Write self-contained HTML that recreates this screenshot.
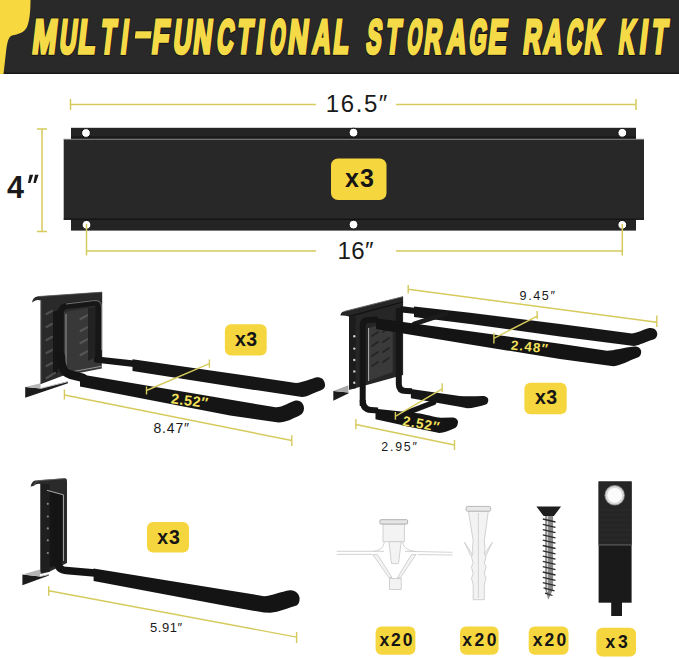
<!DOCTYPE html>
<html><head><meta charset="utf-8">
<style>
html,body{margin:0;padding:0;background:#fff;}
body{width:679px;height:658px;overflow:hidden;position:relative;font-family:"Liberation Sans",sans-serif;}
svg{position:absolute;left:0;top:0;display:block;}
text{font-family:"Liberation Sans",sans-serif;}
</style></head>
<body>
<svg width="679" height="658" viewBox="0 0 679 658">
<rect x="0" y="0" width="679" height="74" fill="#29292a"/>
<rect x="0" y="72.5" width="679" height="1.5" fill="#18181a"/>
<path d="M0,0 L30.5,0 C30.5,12 29.5,21 27,27 C24,33 18,34 12,35.5 C8,37 7,44 6,52 L3.5,74 L0,74 Z" fill="#f8d83f"/>
<g fill="#121212" font-weight="bold" stroke="#121212" stroke-width="4.6" stroke-linejoin="miter" opacity="0.85">
<text vector-effect="non-scaling-stroke" transform="translate(31.17,53.2) skewX(-6.6) scale(0.609,1)" font-size="47.4">M</text>
<text vector-effect="non-scaling-stroke" transform="translate(58.50,53.2) skewX(-6.6) scale(0.491,1)" font-size="47.4">U</text>
<text vector-effect="non-scaling-stroke" transform="translate(77.11,53.2) skewX(-6.6) scale(0.596,1)" font-size="47.4">L</text>
<text vector-effect="non-scaling-stroke" transform="translate(99.40,53.2) skewX(-6.6) scale(0.509,1)" font-size="47.4">T</text>
<text vector-effect="non-scaling-stroke" transform="translate(119.92,53.2) skewX(-6.6) scale(0.498,1)" font-size="47.4">I</text>
<text vector-effect="non-scaling-stroke" transform="translate(150.85,53.2) skewX(-6.6) scale(0.582,1)" font-size="47.4">F</text>
<text vector-effect="non-scaling-stroke" transform="translate(172.30,53.2) skewX(-6.6) scale(0.526,1)" font-size="47.4">U</text>
<text vector-effect="non-scaling-stroke" transform="translate(192.22,53.2) skewX(-6.6) scale(0.531,1)" font-size="47.4">N</text>
<text vector-effect="non-scaling-stroke" transform="translate(215.86,53.2) skewX(-6.6) scale(0.484,1)" font-size="47.4">C</text>
<text vector-effect="non-scaling-stroke" transform="translate(236.09,53.2) skewX(-6.6) scale(0.519,1)" font-size="47.4">T</text>
<text vector-effect="non-scaling-stroke" transform="translate(255.28,53.2) skewX(-6.6) scale(0.542,1)" font-size="47.4">I</text>
<text vector-effect="non-scaling-stroke" transform="translate(268.80,53.2) skewX(-6.6) scale(0.410,1)" font-size="47.4">O</text>
<text vector-effect="non-scaling-stroke" transform="translate(286.88,53.2) skewX(-6.6) scale(0.574,1)" font-size="47.4">N</text>
<text vector-effect="non-scaling-stroke" transform="translate(311.79,53.2) skewX(-6.6) scale(0.519,1)" font-size="47.4">A</text>
<text vector-effect="non-scaling-stroke" transform="translate(332.21,53.2) skewX(-6.6) scale(0.534,1)" font-size="47.4">L</text>
<text vector-effect="non-scaling-stroke" transform="translate(365.15,53.2) skewX(-6.6) scale(0.475,1)" font-size="47.4">S</text>
<text vector-effect="non-scaling-stroke" transform="translate(384.80,53.2) skewX(-6.6) scale(0.502,1)" font-size="47.4">T</text>
<text vector-effect="non-scaling-stroke" transform="translate(406.03,53.2) skewX(-6.6) scale(0.395,1)" font-size="47.4">O</text>
<text vector-effect="non-scaling-stroke" transform="translate(423.22,53.2) skewX(-6.6) scale(0.499,1)" font-size="47.4">R</text>
<text vector-effect="non-scaling-stroke" transform="translate(446.05,53.2) skewX(-6.6) scale(0.553,1)" font-size="47.4">A</text>
<text vector-effect="non-scaling-stroke" transform="translate(467.89,53.2) skewX(-6.6) scale(0.469,1)" font-size="47.4">G</text>
<text vector-effect="non-scaling-stroke" transform="translate(487.04,53.2) skewX(-6.6) scale(0.587,1)" font-size="47.4">E</text>
<text vector-effect="non-scaling-stroke" transform="translate(522.27,53.2) skewX(-6.6) scale(0.515,1)" font-size="47.4">R</text>
<text vector-effect="non-scaling-stroke" transform="translate(542.87,53.2) skewX(-6.6) scale(0.535,1)" font-size="47.4">A</text>
<text vector-effect="non-scaling-stroke" transform="translate(565.22,53.2) skewX(-6.6) scale(0.452,1)" font-size="47.4">C</text>
<text vector-effect="non-scaling-stroke" transform="translate(583.58,53.2) skewX(-6.6) scale(0.509,1)" font-size="47.4">K</text>
<text vector-effect="non-scaling-stroke" transform="translate(617.85,53.2) skewX(-6.6) scale(0.457,1)" font-size="47.4">K</text>
<text vector-effect="non-scaling-stroke" transform="translate(638.68,53.2) skewX(-6.6) scale(0.542,1)" font-size="47.4">I</text>
<text vector-effect="non-scaling-stroke" transform="translate(650.39,53.2) skewX(-6.6) scale(0.523,1)" font-size="47.4">T</text>
<polygon points="136.4,36.9 149.5,36.9 150.0,32.8 136.9,32.8"/>
</g>
<g fill="#f5da48" font-weight="bold" stroke="#f5da48" stroke-width="3.0" stroke-linejoin="miter">
<text vector-effect="non-scaling-stroke" transform="translate(31.17,53.2) skewX(-6.6) scale(0.609,1)" font-size="47.4">M</text>
<text vector-effect="non-scaling-stroke" transform="translate(58.50,53.2) skewX(-6.6) scale(0.491,1)" font-size="47.4">U</text>
<text vector-effect="non-scaling-stroke" transform="translate(77.11,53.2) skewX(-6.6) scale(0.596,1)" font-size="47.4">L</text>
<text vector-effect="non-scaling-stroke" transform="translate(99.40,53.2) skewX(-6.6) scale(0.509,1)" font-size="47.4">T</text>
<text vector-effect="non-scaling-stroke" transform="translate(119.92,53.2) skewX(-6.6) scale(0.498,1)" font-size="47.4">I</text>
<text vector-effect="non-scaling-stroke" transform="translate(150.85,53.2) skewX(-6.6) scale(0.582,1)" font-size="47.4">F</text>
<text vector-effect="non-scaling-stroke" transform="translate(172.30,53.2) skewX(-6.6) scale(0.526,1)" font-size="47.4">U</text>
<text vector-effect="non-scaling-stroke" transform="translate(192.22,53.2) skewX(-6.6) scale(0.531,1)" font-size="47.4">N</text>
<text vector-effect="non-scaling-stroke" transform="translate(215.86,53.2) skewX(-6.6) scale(0.484,1)" font-size="47.4">C</text>
<text vector-effect="non-scaling-stroke" transform="translate(236.09,53.2) skewX(-6.6) scale(0.519,1)" font-size="47.4">T</text>
<text vector-effect="non-scaling-stroke" transform="translate(255.28,53.2) skewX(-6.6) scale(0.542,1)" font-size="47.4">I</text>
<text vector-effect="non-scaling-stroke" transform="translate(268.80,53.2) skewX(-6.6) scale(0.410,1)" font-size="47.4">O</text>
<text vector-effect="non-scaling-stroke" transform="translate(286.88,53.2) skewX(-6.6) scale(0.574,1)" font-size="47.4">N</text>
<text vector-effect="non-scaling-stroke" transform="translate(311.79,53.2) skewX(-6.6) scale(0.519,1)" font-size="47.4">A</text>
<text vector-effect="non-scaling-stroke" transform="translate(332.21,53.2) skewX(-6.6) scale(0.534,1)" font-size="47.4">L</text>
<text vector-effect="non-scaling-stroke" transform="translate(365.15,53.2) skewX(-6.6) scale(0.475,1)" font-size="47.4">S</text>
<text vector-effect="non-scaling-stroke" transform="translate(384.80,53.2) skewX(-6.6) scale(0.502,1)" font-size="47.4">T</text>
<text vector-effect="non-scaling-stroke" transform="translate(406.03,53.2) skewX(-6.6) scale(0.395,1)" font-size="47.4">O</text>
<text vector-effect="non-scaling-stroke" transform="translate(423.22,53.2) skewX(-6.6) scale(0.499,1)" font-size="47.4">R</text>
<text vector-effect="non-scaling-stroke" transform="translate(446.05,53.2) skewX(-6.6) scale(0.553,1)" font-size="47.4">A</text>
<text vector-effect="non-scaling-stroke" transform="translate(467.89,53.2) skewX(-6.6) scale(0.469,1)" font-size="47.4">G</text>
<text vector-effect="non-scaling-stroke" transform="translate(487.04,53.2) skewX(-6.6) scale(0.587,1)" font-size="47.4">E</text>
<text vector-effect="non-scaling-stroke" transform="translate(522.27,53.2) skewX(-6.6) scale(0.515,1)" font-size="47.4">R</text>
<text vector-effect="non-scaling-stroke" transform="translate(542.87,53.2) skewX(-6.6) scale(0.535,1)" font-size="47.4">A</text>
<text vector-effect="non-scaling-stroke" transform="translate(565.22,53.2) skewX(-6.6) scale(0.452,1)" font-size="47.4">C</text>
<text vector-effect="non-scaling-stroke" transform="translate(583.58,53.2) skewX(-6.6) scale(0.509,1)" font-size="47.4">K</text>
<text vector-effect="non-scaling-stroke" transform="translate(617.85,53.2) skewX(-6.6) scale(0.457,1)" font-size="47.4">K</text>
<text vector-effect="non-scaling-stroke" transform="translate(638.68,53.2) skewX(-6.6) scale(0.542,1)" font-size="47.4">I</text>
<text vector-effect="non-scaling-stroke" transform="translate(650.39,53.2) skewX(-6.6) scale(0.523,1)" font-size="47.4">T</text>
<polygon points="136.4,36.9 149.5,36.9 150.0,32.8 136.9,32.8"/>
</g>
<g stroke="#d6ca5c" stroke-width="1.5" fill="none">
  <path d="M70.5,104.5H316 M396,104.5H636 M70.5,99V110 M636,99V110"/>
  <path d="M42,129V231.5 M37,129H47 M37,231.5H47"/>
  <path d="M86.5,226V255.5 M622.3,226V255.5 M86.5,251H316 M396,251H622.3"/>
</g>
<text x="325.8" y="112.4" font-size="24" fill="#1a1a1a" textLength="61.5" lengthAdjust="spacing">16.5″</text>
<text x="337.4" y="259.3" font-size="24" fill="#1a1a1a" textLength="36.2" lengthAdjust="spacing">16″</text>
<text x="7.0" y="197.8" font-size="30.5" font-weight="bold" fill="#1a1a1a">4</text>
<path d="M29.6,174.8 L33.2,174.8 L30.4,183 L28,183 Z M35,174.8 L38.6,174.8 L35.8,183 L33.4,183 Z" fill="#1a1a1a"/>
<rect x="71" y="127.8" width="565" height="102.8" fill="#242424"/>
<rect x="71" y="136.6" width="565" height="1.2" fill="#141414"/>
<rect x="63.7" y="139.3" width="580.3" height="80.3" fill="#282828"/>
<rect x="63.7" y="138.8" width="580.3" height="1.1" fill="#7a7a7a"/>
<rect x="63.7" y="218.6" width="580.3" height="1.2" fill="#111"/>
<g fill="#fff" stroke="#111" stroke-width="1">
  <circle cx="86" cy="133" r="4.4"/>
  <circle cx="353.5" cy="132.6" r="4.4"/>
  <circle cx="622.3" cy="132.8" r="4.4"/>
  <circle cx="86.5" cy="224.8" r="4.4"/>
  <circle cx="353.5" cy="224.6" r="4.4"/>
  <circle cx="622.3" cy="224.8" r="4.4"/>
</g>
<path d="M86.5,224V231" stroke="#d6ca5c" stroke-width="1.5"/>
<path d="M622.3,224V231" stroke="#d6ca5c" stroke-width="1.5"/>
<rect x="331" y="158.5" width="55.5" height="41.5" rx="7" fill="#f6d63e"/>
<text x="345" y="187" font-size="25" font-weight="bold" fill="#151515" textLength="29" lengthAdjust="spacing">x3</text>

<!-- HOOK 1 -->
<g>
  <!-- bottom flange -->
  <polygon points="25.2,387 40.6,388.4 67.5,381.5 68,383.3 25.2,397.8" fill="#1c1c1c"/>
  <polygon points="25.2,386.9 40.6,383.2 40.6,388.4" fill="#b8b8b8"/>
  <path d="M40.6,388.5 L67.3,381.8" stroke="#bdbdbd" stroke-width="1" fill="none"/>
  <!-- back plate -->
  <path d="M32,302.5 Q33,297 37.5,296.5 L102.2,292 L102.2,361 L41,384 L41,300.5 Q37,299.5 34.5,301 Z" fill="#2a2a2a"/>
  <path d="M37.5,296.6 L102,292.2" stroke="#555" stroke-width="0.8"/>
  <path d="M41,300.5 L41,384" stroke="#444" stroke-width="1.2"/>
  <path d="M53,312 L58,310 L58,372 L53,376 Z" fill="#161616"/>
  <g stroke="#4e4e4e" stroke-width="2.2" stroke-linecap="round">
    <path d="M46.5,314 L52,311 M46.5,327 L52,324 M46.5,340 L52,337 M46.5,353 L52,350 M46.5,366 L52,363 M46.5,378 L55,373"/>
  </g>
  <!-- inner plate inside frame -->
  <path d="M63.5,312 L96,306.5 L96,356 L101.8,361 L101.8,368.5 L71,374.5 L63.5,368 Z" fill="#383838"/>
  <path d="M66,314 L66,366 L71,372 L101.5,366.3" stroke="#a0a0a0" stroke-width="0.9" fill="none"/>
  <path d="M88,308 L96,307 L96,357 L88,361 Z" fill="#222"/>
  <g stroke="#555" stroke-width="2.2" stroke-linecap="round">
    <path d="M80.5,319 L87,315.5 M80.5,331 L87,327.5 M80.5,343 L87,339.5 M80.5,355 L87,351.5"/>
  </g>
  <!-- frame loop -->
  <path d="M98.2,357 L98.6,308 Q98.6,302.2 93.5,302.7 L66.5,306 Q60.8,307 60.8,313 L60.8,360" stroke="#161616" stroke-width="6" fill="none" stroke-linejoin="round"/>
  <path d="M66,304 L93.5,300.6 Q101.5,299.8 101.6,307 L101.6,350" stroke="#8a8a8a" stroke-width="0.8" fill="none"/>
  <!-- upper arm rod -->
  <path d="M97,359.6 L134,363.8" stroke="#151515" stroke-width="6.4" stroke-linecap="round"/>
  <!-- upper arm foam -->
  <path d="M132.5,359.3 L230,373.3 L296,383 C303,382.5 311,378.5 317,377.2 C322,376.5 325.6,381 325,386 C324.5,388.5 322.5,389.8 320.5,390.5 C313,393 308,396.5 302,397 L230,386.3 L132.5,371 Z" fill="#161616"/>
  <!-- lower arm -->
  <path d="M60.8,356 Q60.8,371.5 70,374.5 L83,377.8" stroke="#141414" stroke-width="8.6" fill="none" stroke-linecap="round"/>
  <path d="M80,374.3 L274,407.1 C281,408.5 289,402.5 295.5,400.6 C300,399.5 304,403.5 304,408.2 C304,411.5 302.5,414 299.5,415.5 C293,418.5 286,422.5 278.6,422.5 L230,415.5 L80,386.5 Z" fill="#151515"/>
</g>
<!-- hook1 dims -->
<g stroke="#d6ca5c" stroke-width="1.4" fill="none">
  <path d="M64.4,389.6V399.4 M64.4,395 L291.8,440.5 M291.8,435.3V446"/>
  <path d="M146.5,386.4V394.6 M146.5,390.5 L209.4,363.7 M209.4,359.6V367.8"/>
</g>
<text x="153.4" y="432.6" font-size="14" fill="#1a1a1a" textLength="35.6" lengthAdjust="spacing">8.47″</text>
<rect x="224.9" y="324.3" width="41.8" height="31.3" rx="6" fill="#f6d63e"/>
<text x="234.9" y="345.9" font-size="19.5" font-weight="bold" fill="#151515" textLength="22.3" lengthAdjust="spacing">x3</text>

<!-- HOOK 2 -->
<g>
  <!-- bottom flange -->
  <polygon points="333.3,390.9 348.4,392.6 348.7,393.3 333.3,400.7" fill="#1c1c1c"/>
  <polygon points="333.3,390.9 348.4,385.2 348.4,392.6" fill="#a8a8a8"/>
  <!-- plate -->
  <path d="M340.4,315.6 Q341,311.5 344.5,311.2 L403.1,296.4 L403.1,375 L356,388 L349,390 L349,316.5 Q344,315 340.4,315.6 Z" fill="#262626"/>
  <path d="M344.5,311.4 L403.1,296.6" stroke="#6a6a6a" stroke-width="0.9"/>
  <path d="M349,316.3 L403,302" stroke="#111" stroke-width="1.2"/>
  <rect x="349" y="316.5" width="6.6" height="72" fill="#1c1c1c"/>
  <g fill="#cfcfcf">
    <circle cx="354.3" cy="336.3" r="1.2"/><circle cx="354.3" cy="348.6" r="1.2"/><circle cx="354.3" cy="360" r="1.2"/><circle cx="354.3" cy="371.4" r="1.2"/><circle cx="354.3" cy="382.8" r="1.2"/>
  </g>
  <!-- inner plate -->
  <path d="M368,328 L392.7,322 L392.7,372 L368,381 Z" fill="#3a3a3a"/>
  <path d="M368.6,328 L368.6,381" stroke="#bdbdbd" stroke-width="0.9"/>
  <g stroke="#262626" stroke-width="2" stroke-linecap="round">
    <path d="M372,336 L378,332 M372,346 L378,342 M372,356 L378,352 M372,366 L378,362 M383,332 L389,328 M383,342 L389,338 M383,352 L389,348 M383,362 L389,358"/>
  </g>
  <!-- back-upper arm -->
  <path d="M402,309.3 L416,311" stroke="#161616" stroke-width="6.2" stroke-linecap="round"/>
  <path d="M414,306.4 L470,312.8 L560,323.9 L632,333.4 C638,333 644,329 649.5,328 C654,327.2 657.5,330.5 657.3,334.3 C657.1,337 655.8,338.8 653.5,339.4 C646,341.5 640,345 634,345.9 L560,336.5 L470,323.9 L414,317 Z" fill="#161616"/>
  <!-- cross bar between top arms -->
  <path d="M414,324 L446,313.5" stroke="#1b1b1b" stroke-width="4.5" stroke-linecap="round"/>
  <!-- right (back) vertical + upper-back small arm -->
  <path d="M398.8,308 L398.8,384 Q398.8,391 406,391 L412,391.2" stroke="#161616" stroke-width="6" fill="none" stroke-linejoin="round"/>
  <path d="M410.9,388.9 L459.6,395.9 C467,396.5 475,396 482.7,395.9 C486,395.9 488.5,397.5 488.3,400.2 C488.1,402.5 487.3,404 485.8,404.6 C479,406.5 473,408.3 467.3,408.3 L459.6,406.8 L410.9,398.2 Z" fill="#161616"/>
  <!-- left (front) vertical + front-upper arm -->
  <path d="M362.7,406 L362.7,326 Q362.7,320 368.5,320 L378,319.5" stroke="#151515" stroke-width="6" fill="none" stroke-linejoin="round"/>
  <path d="M376,318.2 L470,331.3 L560,343.8 L607,350.8 C614,350.5 624,347.5 634,346.5 C638,346 641.5,348.5 641.2,352.3 C641,355.5 639.5,357 637,357.8 C628,361 621,365.5 613.5,366.2 L560,359 L470,344.5 L376,328.9 Z" fill="#141414"/>
  <!-- lower cross bar -->
  <path d="M400,415.5 L433.5,402.5" stroke="#151515" stroke-width="5.5" stroke-linecap="round"/>
  <!-- lower-front small arm -->
  <path d="M362.7,400 Q362.7,409.5 371,410 L378,410.5" stroke="#151515" stroke-width="6" fill="none" stroke-linejoin="round"/>
  <path d="M375.5,408.8 L420,413.6 C430,415.5 435,417.5 441,417.7 L452,417.4 C455.5,417.3 458.3,419.5 458,422.5 C457.7,425.3 456.5,427.5 454.5,428.3 C449,430.5 444,433 439.3,433.1 L420,429 L375.5,419.3 Z" fill="#141414"/>
</g>
<!-- hook2 dims -->
<g stroke="#d6ca5c" stroke-width="1.4" fill="none">
  <path d="M408.2,285V293.6 M408.2,289.3 L656.8,322.2 M656.8,315.5V327"/>
  <path d="M493.9,333V343.6 M493.9,338.3 L537.2,316.2 M537.2,310.9V318.9"/>
  <path d="M395.4,412V419.7 M395.4,416.4 L442.2,388.8 M442.2,383.3V392"/>
  <path d="M355.9,419V429.2 M355.9,424.5 L454.5,445 M454.5,440V450"/>
</g>
<text x="519.6" y="300" font-size="12.6" fill="#1a1a1a" textLength="35.3" lengthAdjust="spacing">9.45″</text>
<text x="381.3" y="450.8" font-size="12.4" fill="#1a1a1a" textLength="35.6" lengthAdjust="spacing">2.95″</text>
<rect x="524.4" y="382.8" width="42.3" height="31.4" rx="6" fill="#f6d63e"/>
<text x="534.9" y="404.2" font-size="19.5" font-weight="bold" fill="#151515" textLength="22.2" lengthAdjust="spacing">x3</text>

<!-- HOOK 3 -->
<g>
  <!-- bottom flange -->
  <polygon points="22.4,574.6 40,576.4 48.9,574.5 48.9,575.5 22.4,585.2" fill="#1c1c1c"/>
  <polygon points="22.4,574.5 40,569.4 40,576.4" fill="#b5b5b5"/>
  <path d="M40,576.5 L48.9,574.6" stroke="#c0c0c0" stroke-width="0.9"/>
  <!-- plate -->
  <path d="M30.5,486.4 Q32,481 35.5,480.6 L65.2,478.2 Q67,478.5 67,481 L67,563 L48.8,572 L40.5,574 L40.5,484 Q37,483 33.5,486 Z" fill="#2a2a2a"/>
  <path d="M33.5,485.5 Q35,481.5 38.7,480.6 L65,478.6" stroke="#6a6a6a" stroke-width="0.8" fill="none"/>
  <rect x="40.5" y="484" width="9" height="88" fill="#1f1f1f"/>
  <!-- inner bracket -->
  <path d="M49.5,490.5 L63.4,494.6 L63.4,561 L51,568 L49.5,566 Z" fill="#151515"/>
  <path d="M47,490.3 L63.4,494.8 L63.4,561" stroke="#bdbdbd" stroke-width="0.9" fill="none"/>
  <g fill="#8a8a8a">
    <circle cx="47.8" cy="503.8" r="1.1"/><circle cx="47.8" cy="516.5" r="1.1"/><circle cx="47.8" cy="528.4" r="1.1"/><circle cx="47.8" cy="540.3" r="1.1"/><circle cx="47.8" cy="553" r="1.1"/>
  </g>
  <!-- vertical rod + bend -->
  <path d="M57.8,496 L57.8,562 Q58,570 66,570.5 L95,573" stroke="#141414" stroke-width="7.5" fill="none" stroke-linejoin="round"/>
  <!-- foam -->
  <path d="M93.6,568.6 L220,588.9 L264,596.2 C272,596 281,591.5 290,590.3 C295,589.8 299.6,594 299.6,598.5 C299.6,602 298.5,604.5 296.5,605.5 C288,608 279,612 270.4,612.8 L264,612.6 L220,604.8 L93.6,581.1 Z" fill="#141414"/>
</g>
<!-- hook3 dims -->
<g stroke="#d6ca5c" stroke-width="1.4" fill="none">
  <path d="M48.7,586.2V595.8 M48.7,590.7 L296.6,637.1 M296.6,632V643"/>
</g>
<text x="150" y="632.1" font-size="13" fill="#1a1a1a" textLength="32.1" lengthAdjust="spacing">5.91″</text>
<rect x="147" y="522" width="42" height="30.6" rx="6" fill="#f6d63e"/>
<text x="157.2" y="543.5" font-size="19.5" font-weight="bold" fill="#151515" textLength="22.6" lengthAdjust="spacing">x3</text>

<!-- ANCHOR 1 (wing) -->
<g stroke="#cdcdcd" stroke-width="0.9" fill="#f3f3f3">
  <path d="M336.7,551.3 L384,551.3 M336.7,554.4 L372,554.4 M405,551.3 L452.6,552.3 M418,554.6 L452.6,555" fill="none"/>
  <path d="M372.8,554.6 L388.8,577.5 L392,577.5 L377.5,554.6 Z"/>
  <path d="M416,554.6 L400.5,577.5 L397.5,577.5 L411.5,554.6 Z"/>
  <path d="M384.4,542 Q383,551 372.5,551.5 M402.5,542 Q404,551 416.5,551.5" fill="none"/>
  <rect x="383" y="524" width="21.4" height="17.7"/>
  <path d="M388.9,541.7 L401.2,541.7 L398.5,563.6 L391.5,563.6 Z"/>
  <rect x="389.5" y="578.5" width="11.7" height="11"/>
  <rect x="379.9" y="519.7" width="27.7" height="4.3" rx="1" fill="#e6e6e6" stroke="#a8a8a8"/>
</g>
<!-- ANCHOR 2 (ribbed) -->
<g stroke="#cdcdcd" stroke-width="0.9" fill="#f3f3f3">
  <path d="M468.4,511.2 L488.3,511.2 L484.3,540.7 L485,547 L484.5,553 L486,557 L484.3,563 L486,567 L484.3,574 L486,578 L484.3,585 L484.3,599.7 L473.2,599.7 L473.2,585 L471.5,578 L473.2,574 L471.5,567 L473.2,563 L471.5,557 L473,553 L472.5,547 L473.2,540.7 Z"/>
  <path d="M464.4,542.3 L470.8,555.8 L472.3,554 Z M492.3,542.3 L485.9,555.8 L484.4,554 Z"/>
  <path d="M478.4,513 L478.4,598" fill="none" stroke="#cfcfcf"/>
  <rect x="466" y="506.4" width="24.7" height="4.8" rx="1.5" fill="#e8e8e8" stroke="#b0b0b0"/>
</g>
<!-- SCREW -->
<g>
  <path d="M545.2,515 L553.1,515 L553.1,589.3 L548.3,599.7 L545.2,589.3 Z" fill="#8a8a8a"/>
  <path d="M547.5,515 L547.5,592" stroke="#d8d8d8" stroke-width="1.2"/>
  <g stroke="#2a2a2a" stroke-width="1.3">
    <path d="M542.8,519 L555.5,522 M542.8,524.3 L555.5,527.3 M542.8,529.6 L555.5,532.6 M542.8,534.9 L555.5,537.9 M542.8,540.2 L555.5,543.2 M542.8,545.5 L555.5,548.5 M542.8,550.8 L555.5,553.8 M542.8,556.1 L555.5,559.1 M542.8,561.4 L555.5,564.4 M542.8,566.7 L555.5,569.7 M542.8,572 L555.5,575 M542.8,577.3 L555.5,580.3 M542.8,582.6 L555.5,585.6 M543.5,587.9 L554.5,590.9 M545,593.2 L552.5,595.5"/>
  </g>
  <path d="M536.4,506.5 L561.1,506.5 L553.9,516 L543.6,516 Z" fill="#1e1e1e"/>
</g>
<!-- STRAP -->
<g>
  <rect x="611.2" y="600" width="10.8" height="16" fill="#1a1a1a"/>
  <rect x="598.6" y="481.5" width="33" height="121.2" fill="#1a1a1a"/>
  <rect x="598.6" y="481.5" width="33" height="63.3" fill="#252525"/>
  <g stroke="#2f2f2f" stroke-width="0.8"><path d="M600,510H630 M600,515H630 M600,520H630 M600,525H630 M600,530H630 M600,535H630 M600,540H630"/></g>
  <rect x="598.6" y="544.3" width="33" height="1.2" fill="#5a5a5a"/>
  <circle cx="614.7" cy="495.3" r="10.2" fill="#8f8f8f"/>
  <circle cx="614.7" cy="495.3" r="9.3" fill="#d8d8d8"/>
  <circle cx="614.7" cy="495.3" r="7.4" fill="#fbfbfb"/>
</g>
<!-- BOTTOM BADGES -->
<g fill="#f6d63e">
  <rect x="375.6" y="626.5" width="39.8" height="28.3" rx="6"/>
  <rect x="460" y="626.5" width="38.6" height="28.3" rx="6"/>
  <rect x="528.7" y="626.5" width="39.8" height="28.3" rx="6"/>
  <rect x="596.3" y="627.8" width="39.7" height="28.7" rx="6"/>
</g>
<g font-size="17.5" font-weight="bold" fill="#151515">
  <text x="379.4" y="645.9" textLength="33.1" lengthAdjust="spacing">x20</text>
  <text x="462.2" y="645.9" textLength="34.2" lengthAdjust="spacing">x20</text>
  <text x="532.7" y="645.9" textLength="33.5" lengthAdjust="spacing">x20</text>
  <text x="605.6" y="647.7" textLength="22.1" lengthAdjust="spacing">x3</text>
</g>
<g font-weight="bold" fill="#f4e15c" stroke="#111" stroke-width="0.6" paint-order="stroke">
<text x="170.6" y="403.3" font-size="14.4" transform="rotate(7.3 170.6 403.3)" textLength="37" lengthAdjust="spacing">2.52″</text>
<text x="510.6" y="349.4" font-size="13.3" transform="rotate(6.2 510.6 349.4)" textLength="37" lengthAdjust="spacing">2.48″</text>
<text x="402.1" y="425.3" font-size="13.8" transform="rotate(10 402.1 425.3)" textLength="37" lengthAdjust="spacing">2.52″</text>
</g>

</svg>
</body></html>
